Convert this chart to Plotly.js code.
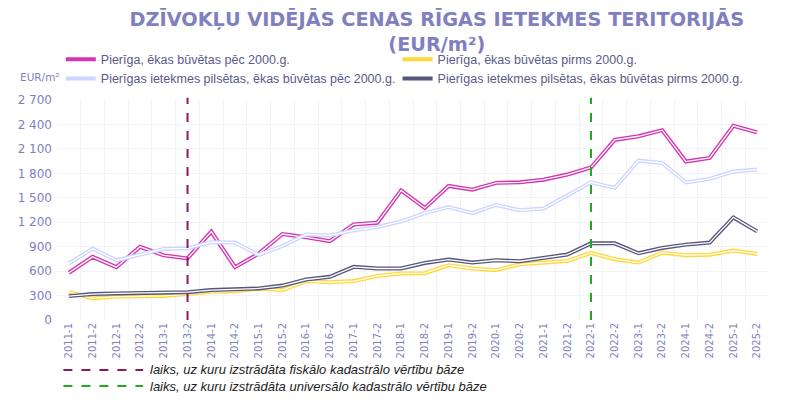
<!DOCTYPE html>
<html>
<head>
<meta charset="utf-8">
<script src="https://cdn.plot.ly/plotly-3.0.1.min.js"></script>
<style>
  html, body { margin: 0; padding: 0; background: #fff; }
  #chart { width: 800px; height: 406px; }
</style>
</head>
<body>
<div id="chart"></div>
<script>
var periods = ['2011-1', '2011-2', '2012-1', '2012-2', '2013-1', '2013-2', '2014-1', '2014-2',
  '2015-1', '2015-2', '2016-1', '2016-2', '2017-1', '2017-2', '2018-1', '2018-2',
  '2019-1', '2019-2', '2020-1', '2020-2', '2021-1', '2021-2', '2022-1', '2022-2',
  '2023-1', '2023-2', '2024-1', '2024-2', '2025-1', '2025-2'];

// EUR/m2
var pierigaPec = [580, 775, 648, 898, 793, 756, 1085, 648, 815, 1055, 1015, 968, 1172, 1194,
  1590, 1375, 1645, 1600, 1683, 1690, 1722, 1785, 1872, 2210, 2255, 2330, 1945, 1988, 2384, 2302];
var pierigaPirms = [346, 265, 288, 295, 295, 318, 346, 354, 385, 367, 478, 463, 478, 540,
  571, 575, 672, 632, 612, 684, 705, 725, 823, 746, 705, 826, 795, 802, 852, 811];
var pilsetasPec = [693, 876, 733, 798, 872, 880, 955, 950, 798, 908, 1050, 1038, 1100, 1141,
  1210, 1312, 1385, 1312, 1412, 1347, 1367, 1528, 1690, 1622, 1955, 1927, 1688, 1732, 1822, 1846];
var pilsetasPirms = [293, 318, 326, 334, 334, 342, 367, 379, 387, 422, 497, 530, 652, 632,
  632, 700, 741, 705, 733, 721, 766, 803, 941, 941, 819, 884, 925, 950, 1259, 1088];

var seriesNames = ['Pierīga, ēkas būvētas pēc 2000.g.', 'Pierīga, ēkas būvētas pirms 2000.g.',
  'Pierīgas ietekmes pilsētas, ēkas būvētas pēc 2000.g.', 'Pierīgas ietekmes pilsētas, ēkas būvētas pirms 2000.g.'];
var seriesValues = [pierigaPec, pierigaPirms, pilsetasPec, pilsetasPirms];
var colors = ['#d633b0', '#ffd83a', '#cdd6ff', '#56567c'];
// left column: "pēc 2000", right column: "pirms 2000"
var legendIds = ['legend', 'legend2', 'legend', 'legend2'];

var markerPeriods = ['2013-2', '2022-1'];
var markerLabels = ['laiks, uz kuru izstrādāta fiskālo kadastrālo vērtību bāze',
  'laiks, uz kuru izstrādāta universālo kadastrālo vērtību bāze'];
var markerColors = ['#8b1a5a', '#22a822'];

var yTicks = [0, 300, 600, 900, 1200, 1500, 1800, 2100, 2400, 2700];

var lavender = '#7f7fc0';
var data = [];

// every line is drawn twice: a wide colour line and a thin white line on top
for (var i = 0; i < seriesValues.length; i++) {
  data.push({
    x: periods,
    y: seriesValues[i],
    name: seriesNames[i],
    type: 'scatter',
    mode: 'lines',
    line: { color: colors[i], width: 4 },
    legend: legendIds[i]
  });
  data.push({
    x: periods,
    y: seriesValues[i],
    type: 'scatter',
    mode: 'lines',
    line: { color: '#ffffff', width: 1.3 },
    showlegend: false,
    hoverinfo: 'skip',
    legend: legendIds[i]
  });
}

var shapes = [];
var annotations = [];

for (var j = 0; j < markerPeriods.length; j++) {
  shapes.push({
    type: 'line',
    xref: 'x', yref: 'paper',
    x0: markerPeriods[j], x1: markerPeriods[j],
    y0: 0, y1: 1.01,
    line: { color: markerColors[j], width: 2, dash: 'dash' }
  });
  // legend below the chart
  shapes.push({
    type: 'line',
    xref: 'paper', yref: 'paper',
    x0: 0.009, x1: 0.121,
    y0: -0.227 - j * 0.073, y1: -0.227 - j * 0.073,
    line: { color: markerColors[j], width: 2, dash: 'dash' }
  });
  annotations.push({
    xref: 'paper', yref: 'paper',
    x: 0.128, y: -0.227 - j * 0.073,
    xanchor: 'left', yanchor: 'middle',
    text: markerLabels[j],
    showarrow: false,
    font: { family: 'Liberation Sans', size: 13, color: '#222222', style: 'italic' }
  });
}

annotations.push({
  xref: 'paper', yref: 'paper',
  x: -0.055, y: 1.105,
  xanchor: 'left', yanchor: 'middle',
  text: 'EUR/m²',
  showarrow: false,
  font: { family: 'DejaVu Sans', size: 10.5, color: lavender }
});

var legendStyle = function (x) {
  return {
    orientation: 'v',
    xref: 'container',
    x: x, xanchor: 'left',
    y: 1.252, yanchor: 'top',
    tracegroupgap: 0,
    font: { family: 'Liberation Sans', size: 12.5, color: '#5a5a8a' },
    bgcolor: 'rgba(0,0,0,0)'
  };
};

var layout = {
  width: 800,
  height: 406,
  autosize: false,
  paper_bgcolor: '#ffffff',
  plot_bgcolor: '#ffffff',
  separators: ', ',
  margin: { l: 57, r: 31, t: 100, b: 86, autoexpand: false },
  title: {
    text: '<b>DZĪVOKĻU VIDĒJĀS CENAS RĪGAS IETEKMES TERITORIJĀS<br>(EUR/m²)</b>',
    x: 0.546, xanchor: 'center',
    y: 0.937, yanchor: 'middle',
    font: { family: 'DejaVu Sans', size: 19.3, color: '#8080c0' }
  },
  showlegend: true,
  legend: legendStyle(0.076),
  legend2: legendStyle(0.497),
  xaxis: {
    type: 'category',
    range: [-0.5, periods.length - 0.5],
    tickson: 'boundaries',
    tickangle: -90,
    showgrid: true,
    gridcolor: '#f2f2f7',
    zeroline: false,
    showline: false,
    ticks: '',
    tickfont: { family: 'DejaVu Sans', size: 10, color: lavender }
  },
  yaxis: {
    range: [0, 2700],
    tickvals: yTicks,
    tickformat: ',d',
    showgrid: true,
    gridcolor: '#f2f2f7',
    zeroline: false,
    showline: false,
    ticks: '',
    ticklabelstandoff: 4,
    tickfont: { family: 'DejaVu Sans', size: 12, color: lavender }
  },
  shapes: shapes,
  annotations: annotations
};

Plotly.newPlot('chart', data, layout, { displayModeBar: false, staticPlot: true });
</script>
</body>
</html>
